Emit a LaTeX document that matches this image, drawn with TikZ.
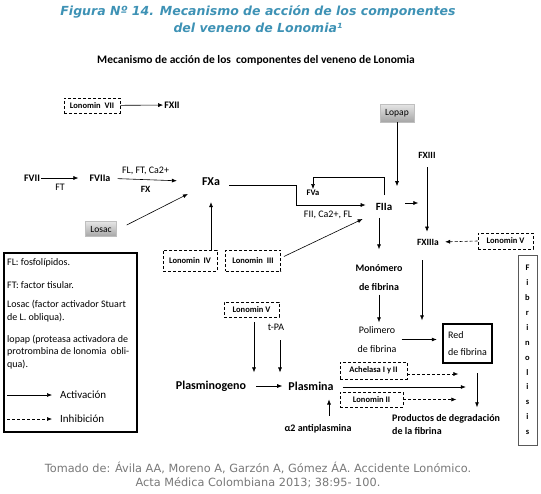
\documentclass[tikz,border=0pt]{standalone}
\usepackage{fontspec}
\setmainfont{Carlito}
\newfontfamily\verdanalike{DejaVu Sans}
\usetikzlibrary{arrows.meta,positioning,calc}
\definecolor{titleblue}{RGB}{62,146,181}
\definecolor{notegray}{RGB}{120,120,120}
\tikzset{
  arc/.style = {
    ->,
    semithick,
    >={Latex[length=5pt,width=4pt]}
  },
  inhib/.style = {
    arc,
    dash pattern=on 3pt off 2pt
  },
  lonbox/.style = {
    draw, thick, dash pattern=on 3pt off 2pt, inner sep=1pt,
    font=\fontsize{8.5}{10}\selectfont\bfseries
  },
  venom/.style = {
    draw=gray!50, top color=gray!20, bottom color=gray!70, inner sep=2pt,
    font=\fontsize{9.5}{11}\selectfont
  },
  factor/.style = {inner sep=1pt, font=\fontsize{10}{12}\selectfont\bfseries},
  mainfactor/.style = {inner sep=1pt, font=\fontsize{12}{14}\selectfont\bfseries},
  cofactor/.style = {inner sep=1pt, font=\fontsize{10}{12}\selectfont},
  legtext/.style = {anchor=west, inner sep=0pt, font=\fontsize{10}{12}\selectfont}
}

\begin{document}
\begin{tikzpicture}[x=1pt, y=-1pt]
    \useasboundingbox (0,0) rectangle (541,493);

    % titulo y fuente
    \node[align=center, text=titleblue,
          font=\verdanalike\fontsize{12.5}{17}\selectfont\bfseries\itshape] (titulo) at (258,19)
      {Figura Nº 14. Mecanismo de acción de los componentes\\del veneno de Lonomia¹};
    \node[font=\fontsize{11.5}{14}\selectfont\bfseries] (subtitulo) at (256,60)
      {Mecanismo de acción de los\ \ componentes del veneno de Lonomia};
    \node[align=center, text=notegray, font=\verdanalike\fontsize{11.3}{14}\selectfont] (fuente) at (258,475)
      {Tomado de: Ávila AA, Moreno A, Garzón A, Gómez ÁA. Accidente Lonómico.\\Acta Médica Colombiana 2013; 38:95- 100.};

    % coagulacion
    \node[lonbox, minimum width=56, minimum height=15] (lonvii) at (92,105.5) {Lonomin\ \ VII};
    \node[factor] (fxii) at (172,105) {FXII};
    \node[factor] (fvii) at (32,178) {FVII};
    \node[factor] (fviia) at (100,178) {FVIIa};
    \node[mainfactor] (fxa) at (211,182) {FXa};
    \node[venom, minimum width=31, minimum height=15] (losac) at (101,229) {Losac};
    \node[lonbox, minimum width=54, minimum height=21] (loniv) at (190,260.5) {Lonomin\ \ IV};
    \node[lonbox, minimum width=55, minimum height=21] (loniii) at (253,260.5) {Lonomin\ \ III};
    \node[mainfactor, font=\fontsize{11}{13}\selectfont\bfseries] (fiia) at (384,207) {FIIa};
    \node[factor, font=\fontsize{8.5}{10}\selectfont\bfseries] (fva) at (313,193) {FVa};
    \node[cofactor] (fiilbl) at (328,215) {FII, Ca2+, FL};
    \node[venom, minimum width=34, minimum height=18] (lopap) at (397,113) {Lopap};
    \node[factor, font=\fontsize{9.5}{11}\selectfont\bfseries] (fxiii) at (427,155) {FXIII};
    \node[factor, font=\fontsize{9.5}{11}\selectfont\bfseries] (fxiiia) at (428,242) {FXIIIa};
    \node[lonbox, minimum width=55, minimum height=16] (lonvb) at (505.5,241) {Lonomin V};
    \node[factor, align=center, font=\fontsize{10}{19}\selectfont\bfseries] (monomero) at (379,277.5)
      {Monómero\\de fibrina};
    \node[cofactor, align=center, font=\fontsize{10}{19}\selectfont] (polimero) at (377,339.5)
      {Polimero\\de fibrina};
    \node[draw, line width=2.5pt, minimum width=49, minimum height=39, align=left,
          font=\fontsize{10}{17}\selectfont] (red) at (467.5,343.5) {Red\\de fibrina};

    \draw[arc] (lonvii) -- (fxii);
    \draw[arc, shorten >=10pt] (fvii) -- (fviia) node[pos=0.4, below=5pt, cofactor]{FT};
    \draw[arc, shorten <=6pt, shorten >=24pt] (fviia) -- (fxa)
      node[pos=0.38, above=4pt, cofactor]{FL, FT, Ca2+}
      node[pos=0.38, below=5pt, factor, font=\fontsize{9.5}{11}\selectfont\bfseries]{FX};
    \draw[arc] ([shift={(10,-4)}]losac.east) -- ([shift={(-13,12)}]fxa.west);
    \draw[arc, shorten >=15pt] (loniv.north -| fxa) -- (fxa);
    \draw[arc] ([shift={(3,-4)}]loniii.east) -- ([shift={(-12,12)}]fiia.west);
    \draw[arc] ([shift={(8,3)}]fxa.east) -- ++(67,0) |- ([shift={(-9,-2)}]fiia.west);
    \draw[arc] ([yshift=7pt]fiia.north) -- ++(0,-18) -| (fva.north);
    \draw[arc, shorten >=16pt] (lopap) -- (lopap |- fiia.north);
    \draw[arc] ([shift={(12,-4)}]fiia.east) -- ++(13,0);
    \draw[arc, shorten <=8pt, shorten >=6pt] (fxiii) -- (fxiii |- fxiiia.north);
    \draw[inhib, shorten >=5pt] (lonvb.west) -- (fxiiia.east);
    \draw[arc, shorten <=6pt, shorten >=14pt] (fiia.south -| monomero.north) -- (monomero.north);
    \draw[arc, shorten <=3pt, shorten >=3pt] (monomero.south) -- (monomero.south |- polimero.north);
    \draw[arc] ([shift={(-6,14)}]fxiiia.south) -- ++(0,60);
    \draw[arc, shorten <=4pt, shorten >=5pt] (polimero.east) -- (polimero.east -| red.west);

    % fibrinolisis
    \node[lonbox, minimum width=55, minimum height=15] (lonva) at (251.5,309.5) {Lonomin V};
    \node[cofactor] (tpa) at (276,327) {t-PA};
    \node[mainfactor] (plasminogeno) at (211,386) {Plasminogeno};
    \node[mainfactor] (plasmina) at (311,386) {Plasmina};
    \node[lonbox, minimum width=67, minimum height=17] (achelasa) at (373.5,370.5) {Achelasa I y II};
    \node[lonbox, minimum width=63, minimum height=15] (lonii) at (371.5,399.5) {Lonomin II};
    \node[factor] (antiplasmina) at (318,429) {α2 antiplasmina};
    \node[factor, anchor=west, align=left, font=\fontsize{10}{13}\selectfont\bfseries] (productos) at (391,425)
      {Productos de degradación\\de la fibrina};
    \node[draw=gray!70!black, thick, minimum width=19, minimum height=190, align=center,
          font=\fontsize{8.5}{14.9}\selectfont\bfseries] (fibrinolisis) at (527.5,350)
      {F\\i\\b\\r\\i\\n\\o\\l\\i\\s\\i\\s};

    \draw[arc] ([shift={(2.5,5)}]lonva.south) -- ++(0,50);
    \draw[arc] ([shift={(4,9)}]tpa.south) -- ++(0,32);
    \draw[arc, shorten <=9pt, shorten >=5pt] (plasminogeno) -- (plasmina);
    \draw[arc] ([shift={(8,1)}]plasmina.east) -- ++(123,0);
    \draw[inhib] ([yshift=-3.5pt]achelasa.east) -- ++(51,0);
    \draw[inhib] (lonii.east) -- ++(53,0);
    \draw[arc] ([shift={(11,-8)}]antiplasmina.north) -- ++(0,-16);
    \draw[arc] ([shift={(9.5,9)}]red.south) -- ++(0,34);

    % leyenda
    \node[draw, line width=1.8pt, minimum width=133, minimum height=179] (leyenda) at (70.5,342.5) {};
    \node[legtext] (fl) at (7,263) {FL: fosfolípidos.};
    \node[legtext] (ft) at (7,285) {FT: factor tisular.};
    \node[legtext] (losactxt) at (7,305) {Losac (factor activador Stuart};
    \node[legtext] (losactxtb) at (7,318) {de L. obliqua).};
    \node[legtext] (lopaptxt) at (7,340) {lopap (proteasa activadora de};
    \node[legtext] (lopaptxtb) at (7,352) {protrombina de lonomia\ \ obli-};
    \node[legtext] (lopaptxtc) at (7,365) {qua).};
    \node[legtext, font=\fontsize{11}{13}\selectfont] (activacion) at (60,395) {Activación};
    \node[legtext, font=\fontsize{11}{13}\selectfont] (inhibicion) at (60,419) {Inhibición};
    \draw[arc] ([xshift=-53pt]activacion.west) -- ([xshift=-8pt]activacion.west);
    \draw[inhib] ([xshift=-53pt]inhibicion.west) -- ([xshift=-8pt]inhibicion.west);
\end{tikzpicture}
\end{document}
